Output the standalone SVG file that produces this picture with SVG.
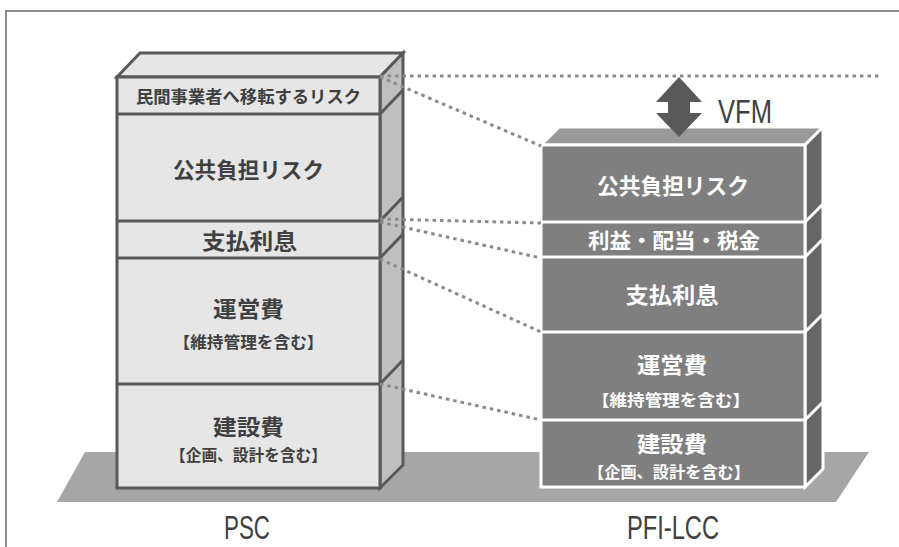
<svg xmlns="http://www.w3.org/2000/svg" width="899" height="547" viewBox="0 0 899 547">
<style>
.jp{font-family:"Noto Sans CJK JP","Noto Sans CJK SC",sans-serif;font-weight:bold;text-anchor:middle}
.dk{fill:#404040}
.wt{fill:#ffffff}
.lat{font-family:"Liberation Sans",Arial,sans-serif;fill:#404040}
.psc{stroke:#595959;stroke-width:3;stroke-linejoin:miter}
.pfi{stroke:#ffffff;stroke-width:3;stroke-linejoin:miter}
.dot{fill:none;stroke:#8a8a8a;stroke-width:3;stroke-dasharray:3.5 4}
</style>
<rect width="899" height="547" fill="#ffffff"/>
<path d="M6 547 V11 H899" fill="none" stroke="#8c8c8c" stroke-width="2"/>
<polygon id="ground" points="85,452 869,452 836,502 57,502" fill="#a6a6a6"/>
<g id="psc">
<polygon class="psc" points="117,77 140,53 403,53 380,77" fill="#e6e6e6"/>
<polygon class="psc" points="380,77 403,53 403,465 380,488" fill="#bfbfbf"/>
<rect class="psc" x="117" y="77" width="263" height="411" fill="#e6e6e6"/>
<path class="psc" fill="none" d="M117 114 H380 L403 90 M117 221 H380 L403 197 M117 258 H380 L403 234 M117 384 H380 L403 360"/>
</g>
<g id="psc-transfer"><text class="jp dk" x="248.5" y="103" font-size="17" textLength="225" lengthAdjust="spacingAndGlyphs">民間事業者へ移転するリスク</text></g>
<g id="psc-public"><text class="jp dk" x="248.5" y="178" font-size="22" textLength="151" lengthAdjust="spacingAndGlyphs">公共負担リスク</text></g>
<g id="psc-interest"><text class="jp dk" x="249.5" y="249" font-size="22" textLength="95" lengthAdjust="spacingAndGlyphs">支払利息</text></g>
<g id="psc-operation"><text class="jp dk" x="248.5" y="317" font-size="22" textLength="71" lengthAdjust="spacingAndGlyphs">運営費</text>
<text class="jp dk" x="248.5" y="348" font-size="16" textLength="150" lengthAdjust="spacingAndGlyphs">【維持管理を含む】</text></g>
<g id="psc-construction"><text class="jp dk" x="248.5" y="435" font-size="22" textLength="71" lengthAdjust="spacingAndGlyphs">建設費</text>
<text class="jp dk" x="248.5" y="461" font-size="16" textLength="157" lengthAdjust="spacingAndGlyphs">【企画、設計を含む】</text></g>
<g id="pfi">
<polygon class="pfi" points="541,145 559,127 823,127 805,145" fill="#999999"/>
<polygon class="pfi" points="805,145 823,127 823,469 805,487" fill="#666666"/>
<rect class="pfi" x="541" y="145" width="264" height="342" fill="#7f7f7f"/>
<path class="pfi" fill="none" d="M541 222 H805 L823 204 M541 257 H805 L823 239 M541 332 H805 L823 314 M541 420 H805 L823 402"/>
</g>
<g id="pfi-public"><text class="jp wt" x="673" y="194" font-size="22" textLength="152" lengthAdjust="spacingAndGlyphs">公共負担リスク</text></g>
<g id="pfi-profit"><text class="jp wt" x="674" y="248" font-size="21" textLength="172" lengthAdjust="spacingAndGlyphs">利益・配当・税金</text></g>
<g id="pfi-interest"><text class="jp wt" x="672" y="303" font-size="22" textLength="93" lengthAdjust="spacingAndGlyphs">支払利息</text></g>
<g id="pfi-operation"><text class="jp wt" x="672" y="373" font-size="22" textLength="70" lengthAdjust="spacingAndGlyphs">運営費</text>
<text class="jp wt" x="671" y="406" font-size="16" textLength="158" lengthAdjust="spacingAndGlyphs">【維持管理を含む】</text></g>
<g id="pfi-construction"><text class="jp wt" x="672" y="452" font-size="22" textLength="70" lengthAdjust="spacingAndGlyphs">建設費</text>
<text class="jp wt" x="669" y="478" font-size="16" textLength="162" lengthAdjust="spacingAndGlyphs">【企画、設計を含む】</text></g>
<g id="connectors">
<path class="dot" d="M380 76 H880"/>
<path class="dot" d="M380 77 L541 146"/>
<path class="dot" d="M380 219 L541 223"/>
<path class="dot" d="M380 222 L541 258"/>
<path class="dot" d="M380 259 L541 332"/>
<path class="dot" d="M380 384 L541 420"/>
</g>
<g id="vfm">
<polygon points="679,77 702,102 690,102 690,113 702,113 679,137 656,113 668,113 668,102 656,102" fill="#595959"/>
<text class="lat" x="718" y="123" font-size="33" textLength="54" lengthAdjust="spacingAndGlyphs">VFM</text>
</g>
<g id="label-psc"><text class="lat" x="224" y="539" font-size="33" textLength="46" lengthAdjust="spacingAndGlyphs">PSC</text></g>
<g id="label-pfi"><text class="lat" x="627" y="539" font-size="33" textLength="92" lengthAdjust="spacingAndGlyphs">PFI-LCC</text></g>
</svg>
